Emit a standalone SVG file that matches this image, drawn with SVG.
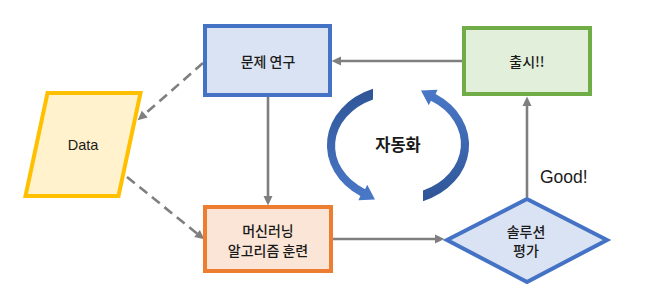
<svg xmlns="http://www.w3.org/2000/svg" width="646" height="304" viewBox="0 0 646 304">
<style>
text{font-family:"Noto Sans CJK KR","Liberation Sans",sans-serif;fill:#1a1a1a;text-anchor:middle;dominant-baseline:central;}
.lbl{font-size:14px;font-weight:500;}
.con{stroke:#7f7f7f;stroke-width:2.6;fill:none;}
.dash{stroke-dasharray:10 6;}
</style>
<defs>
<marker id="ah" markerUnits="userSpaceOnUse" markerWidth="10" markerHeight="10" viewBox="0 -5 10 10" refX="0" refY="0" orient="auto" overflow="visible">
<path d="M0,-4.5 L9.5,0 L0,4.5 z" fill="#7f7f7f"/>
</marker>
<linearGradient id="cg" x1="0" y1="0" x2="0" y2="1">
<stop offset="0" stop-color="#2f5597"/>
<stop offset="1" stop-color="#4a78c8"/>
</linearGradient>
</defs>
<g id="connectors">
<line class="con" x1="462" y1="61" x2="341" y2="61" marker-end="url(#ah)"/>
<line class="con" x1="268" y1="97" x2="268" y2="196" marker-end="url(#ah)"/>
<line class="con" x1="333" y1="239" x2="435" y2="239" marker-end="url(#ah)"/>
<line class="con" x1="527" y1="197" x2="527" y2="106" marker-end="url(#ah)"/>
<line class="con dash" x1="203" y1="63" x2="144.8" y2="114.1" marker-end="url(#ah)"/>
<line class="con dash" x1="127" y1="177" x2="197" y2="233.4" marker-end="url(#ah)"/>
</g>
<g id="problem">
<rect x="205" y="26" width="125" height="69" fill="#dae3f3" stroke="#4472c4" stroke-width="4"/>
<text class="lbl" x="268" y="61">문제 연구</text>
</g>
<g id="release">
<rect x="464" y="28" width="126" height="66" fill="#e2efda" stroke="#70ad47" stroke-width="4"/>
<text class="lbl" x="527" y="61">출시!!</text>
</g>
<g id="data">
<polygon points="47.5,93 140.5,93 118.5,196 25.5,196" fill="#fff2cc" stroke="#ffc000" stroke-width="4"/>
<text x="83" y="145" style="font-family:'Liberation Sans',Arial,sans-serif;font-size:14.5px">Data</text>
</g>
<g id="train">
<rect x="205" y="207" width="126" height="64" fill="#fbe5d6" stroke="#ed7d31" stroke-width="4"/>
<text class="lbl" x="268" y="230">머신러닝</text>
<text class="lbl" x="268" y="249.5">알고리즘 훈련</text>
</g>
<g id="evaluate">
<polygon points="527,199 607,240 527,282 447,240" fill="#dae3f3" stroke="#4472c4" stroke-width="4"/>
<text class="lbl" x="526" y="230.5">솔루션</text>
<text class="lbl" x="526" y="249.5">평가</text>
</g>
<g id="cycle">
<path d="M373,88.8 A71,60 0 0 0 360.4,195.9 L358.4,200.3 L375,199.4 L367.2,184.7 L365.1,189.2 A64,51 0 0 1 373,99.4 Z" fill="url(#cg)"/>
<path d="M373,88.8 A71,60 0 0 0 360.4,195.9 L358.4,200.3 L375,199.4 L367.2,184.7 L365.1,189.2 A64,51 0 0 1 373,99.4 Z" fill="url(#cg)" transform="rotate(180 398 145)"/>
<text x="398" y="144" style="font-size:16.5px;font-weight:bold">자동화</text>
</g>
<text x="540" y="177" style="font-family:'Liberation Sans',Arial,sans-serif;font-size:17.5px;text-anchor:start">Good!</text>
</svg>
